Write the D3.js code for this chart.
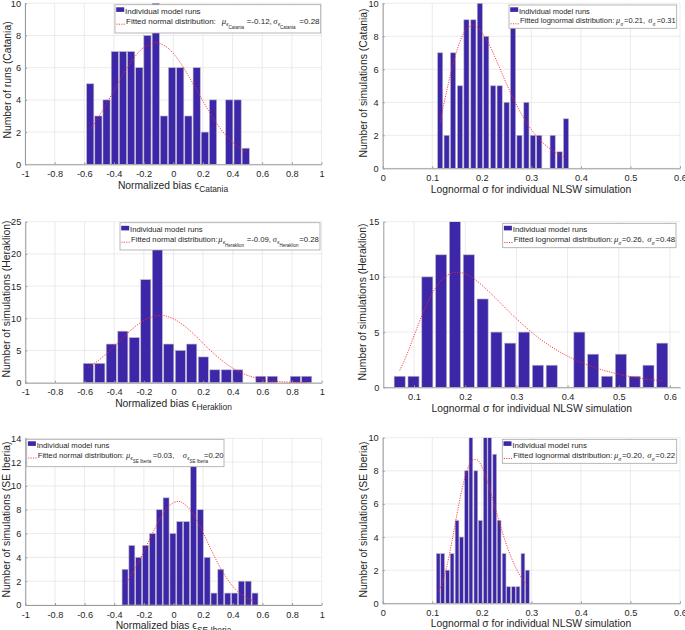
<!DOCTYPE html>
<html><head><meta charset="utf-8">
<script src="https://cdn.jsdelivr.net/npm/d3@7/dist/d3.min.js"></script>
<style>
body{margin:0;background:#fff}
svg{display:block}
text{font-family:"Liberation Sans",Arial,Helvetica,sans-serif;fill:#262626}
.sym{font-family:"Liberation Serif","Times New Roman",serif;font-style:italic}
</style>
</head><body>
<svg id="c" width="685" height="630"></svg>
<script>
// ---------------- DATA ----------------
// Catania
const catBiasCenters=[-0.560,-0.505,-0.450,-0.394,-0.339,-0.284,-0.229,-0.174,-0.118,-0.063,-0.008,0.047,0.102,0.158,0.213,0.268,0.323,0.378,0.434,0.489];
const catBiasCounts=[5,3,4,7,7,7,6,8,10,3,6,6,3,6,2,4,0,4,4,1];
const catBiasFit=[[-0.56,2.15],[-0.5,3.0],[-0.45,3.77],[-0.4,4.58],[-0.35,5.39],[-0.3,6.14],[-0.25,6.78],[-0.2,7.25],[-0.12,7.55],[-0.05,7.32],[0,6.89],[0.05,6.28],[0.1,5.54],[0.15,4.74],[0.2,3.93],[0.25,3.15],[0.3,2.45],[0.35,1.85],[0.4,1.38],[0.45,1.0],[0.49,0.78]];
const catSigCenters=[0.116,0.129,0.142,0.156,0.169,0.183,0.196,0.209,0.223,0.236,0.250,0.263,0.276,0.290,0.303,0.316,0.330,0.343,0.357,0.370];
const catSigCounts=[7,2,7,5,9,9,10,8,5,5,4,9,2,4,2,2,0,2,1,3];
const catSigFit=[[0.116,2.75],[0.12,3.4],[0.13,4.8],[0.14,6.08],[0.15,7.16],[0.16,7.97],[0.17,8.47],[0.183,8.67],[0.19,8.58],[0.21,7.78],[0.23,6.5],[0.25,5.11],[0.27,3.84],[0.29,2.78],[0.31,1.97],[0.33,1.36],[0.35,0.93],[0.37,0.63]];
// Heraklion
const herBiasCenters=[-0.575,-0.497,-0.420,-0.342,-0.265,-0.187,-0.109,-0.032,0.046,0.123,0.201,0.279,0.356,0.434,0.511,0.589,0.667,0.744,0.822,0.899];
const herBiasCounts=[3,3,6,8,7,16,22,6,5,6,4,2,2,2,0,1,1,0,1,1];
const herBiasFit=[[-0.575,2.35],[-0.5,3.58],[-0.45,4.57],[-0.4,5.66],[-0.35,6.79],[-0.3,7.89],[-0.25,8.87],[-0.2,9.67],[-0.15,10.21],[-0.09,10.45],[-0.05,10.34],[0,9.92],[0.05,9.22],[0.1,8.3],[0.15,7.24],[0.2,6.11],[0.25,5.0],[0.3,3.96],[0.35,3.04],[0.4,2.26],[0.45,1.63],[0.5,1.13],[0.6,0.5],[0.7,0.2],[0.8,0.07],[0.9,0.02]];
const herSigCenters=[0.072,0.099,0.126,0.153,0.180,0.207,0.234,0.261,0.288,0.315,0.342,0.369,0.396,0.423,0.450,0.477,0.504,0.531,0.558,0.585];
const herSigCounts=[1,1,10,12,15,12,8,5,4,5,2,2,0,5,3,1,3,1,2,4];
const herSigFit=[[0.072,1.54],[0.08,2.31],[0.09,3.43],[0.1,4.65],[0.12,7.01],[0.14,8.86],[0.16,9.99],[0.18,10.41],[0.2,10.27],[0.22,9.73],[0.25,8.5],[0.3,6.21],[0.35,4.25],[0.4,2.82],[0.45,1.84],[0.5,1.19],[0.55,0.77],[0.585,0.58]];
// SE Iberia
const ibeBiasCenters=[-0.327,-0.281,-0.235,-0.189,-0.142,-0.096,-0.050,-0.004,0.042,0.088,0.135,0.181,0.227,0.273,0.319,0.366,0.412,0.458,0.504,0.550];
const ibeBiasCounts=[3,5,4,5,6,8,9,6,7,7,13,8,4,1,3,1,1,2,2,1];
const ibeBiasFit=[[-0.327,1.8],[-0.3,2.23],[-0.25,3.27],[-0.2,4.49],[-0.15,5.8],[-0.1,7.04],[-0.05,8.03],[0,8.6],[0.03,8.7],[0.05,8.66],[0.1,8.18],[0.15,7.27],[0.2,6.06],[0.25,4.75],[0.3,3.5],[0.35,2.42],[0.4,1.57],[0.45,0.96],[0.5,0.55],[0.55,0.32]];
const ibeSigCenters=[0.112,0.121,0.131,0.140,0.150,0.159,0.169,0.178,0.188,0.197,0.207,0.216,0.226,0.235,0.245,0.254,0.264,0.273,0.283,0.292];
const ibeSigCounts=[3,3,2,3,5,4,8,10,8,5,10,10,9,5,3,1,1,1,3,2];
const ibeSigFit=[[0.112,0.68],[0.12,1.2],[0.13,2.31],[0.14,3.78],[0.15,5.39],[0.16,6.88],[0.17,8.0],[0.18,8.62],[0.19,8.68],[0.2,8.26],[0.21,7.47],[0.22,6.5],[0.23,5.46],[0.24,4.44],[0.25,3.52],[0.26,2.73],[0.27,2.07],[0.28,1.55],[0.292,1.05]];

// ticks
const biasTicks=[-1,-0.8,-0.6,-0.4,-0.2,0,0.2,0.4,0.6,0.8,1];
const biasTickLabels=["-1","-0.8","-0.6","-0.4","-0.2","0","0.2","0.4","0.6","0.8","1"];
const sigTicksA=[0,0.1,0.2,0.3,0.4,0.5,0.6];
const sigTickLabelsA=["0","0.1","0.2","0.3","0.4","0.5","0.6"];
const sigTicksB=[0.1,0.2,0.3,0.4,0.5,0.6];
const sigTickLabelsB=["0.1","0.2","0.3","0.4","0.5","0.6"];
const yTicks10=[0,2,4,6,8,10];
const yTicks25=[0,5,10,15,20,25];
const yTicks15=[0,5,10,15];
const yTicks14=[0,2,4,6,8,10,12,14];

// texts
const regions=["Catania","Heraklion","SE Iberia"];
const yLabels=["Number of runs (Catania)","Number of simulations (Catania)","Number of simulations (Heraklion)","Number of simulations (Heraklion)","Number of simulations (SE Iberia)","Number of simulations (SE Iberia)"];
const xLabelBias="Normalized bias ϵ";
const xLabelSig="Lognormal σ for individual NLSW simulation";
const legendRuns="Individual model runs";
const legendNormal="Fitted normal distribution:";
const legendLognormal="Fitted lognormal distribution:";
const fitValues=[["=-0.12,","=0.28"],["=0.21,","=0.31"],["=-0.09,","=0.28"],["=0.26,","=0.48"],["=0.03,","=0.20"],["=0.20,","=0.22"]];

// ---------------- LAYOUT ----------------
const barColor="#3E26A8";
const panels=[
 {kind:"bias",reg:0,centers:catBiasCenters,counts:catBiasCounts,fit:catBiasFit,xt:biasTicks,xl:biasTickLabels,yt:yTicks10,
  x0:25,x1:321.5,y0:164.3,y1:3.3,xd:[-1,1],yd:[0,10],frac:0.88,
  lg:{x:115,y:4.7,w:205.7,h:28.3,b1:13.5,b2:23.7,fs:8.0,muX:221.7,v1X:246.7,sigX:273.3,v2X:299.3},
  yl:{x:11,yc:80},xlab:{xc:173,y:188.7}},
 {kind:"sig",reg:0,centers:catSigCenters,counts:catSigCounts,fit:catSigFit,xt:sigTicksA,xl:sigTickLabelsA,yt:yTicks10,
  x0:382.7,x1:680,y0:168.3,y1:3.3,xd:[0,0.6],yd:[0,10],frac:0.8,
  lg:{x:509,y:5,w:167.7,h:23.3,b1:13.5,b2:23.3,fs:7.5,muX:616,v1X:624,sigX:648.3,v2X:656.7},
  yl:{x:367,yc:83},xlab:{xc:531,y:193}},
 {kind:"bias",reg:1,centers:herBiasCenters,counts:herBiasCounts,fit:herBiasFit,xt:biasTicks,xl:biasTickLabels,yt:yTicks25,
  x0:25.3,x1:321.7,y0:382.7,y1:221.7,xd:[-1,1],yd:[0,25],frac:0.87,
  lg:{x:120,y:222.7,w:200,h:27.3,b1:232,b2:241.7,fs:7.7,muX:218.3,v1X:246.7,sigX:272.7,v2X:299.3},
  yl:{x:9.8,yc:299},xlab:{xc:173.5,y:406.7}},
 {kind:"sig",reg:1,centers:herSigCenters,counts:herSigCounts,fit:herSigFit,xt:sigTicksB,xl:sigTickLabelsB,yt:yTicks15,
  x0:383.3,x1:680.2,y0:387.3,y1:221.7,xd:[0.04,0.62],yd:[0,15],frac:0.8,
  lg:{x:502.7,y:223.3,w:173.3,h:24.4,b1:232,b2:242,fs:7.9,muX:614,v1X:621.7,sigX:647.3,v2X:655.3},
  yl:{x:366,yc:302},xlab:{xc:531.7,y:411.5}},
 {kind:"bias",reg:2,centers:ibeBiasCenters,counts:ibeBiasCounts,fit:ibeBiasFit,xt:biasTicks,xl:biasTickLabels,yt:yTicks14,
  x0:25.3,x1:321.7,y0:605,y1:438.3,xd:[-1,1],yd:[0,14],frac:0.87,
  lg:{x:26.7,y:439.3,w:197.3,h:27.4,b1:447.5,b2:457.5,fs:7.7,muX:126,v1X:152.7,sigX:182.7,v2X:204},
  yl:{x:9.8,yc:519.5},xlab:{xc:173.5,y:629}},
 {kind:"sig",reg:2,centers:ibeSigCenters,counts:ibeSigCounts,fit:ibeSigFit,xt:sigTicksA,xl:sigTickLabelsA,yt:yTicks10,
  x0:382.7,x1:680,y0:603.3,y1:437.7,xd:[0,0.6],yd:[0,10],frac:0.84,
  lg:{x:502.3,y:439.3,w:174.4,h:24,b1:447.5,b2:458,fs:7.9,muX:614,v1X:622,sigX:647.3,v2X:655.3},
  yl:{x:367,yc:519.5},xlab:{xc:531,y:627}}
];

const svg=d3.select("#c");
const defs=svg.append("defs");

panels.forEach((p,i)=>{
  const x=d3.scaleLinear().domain(p.xd).range([p.x0,p.x1]);
  const y=d3.scaleLinear().domain(p.yd).range([p.y0,p.y1]);
  const g=svg.append("g");
  const cid="clip"+i;
  defs.append("clipPath").attr("id",cid).append("rect")
    .attr("x",p.x0).attr("y",p.y1).attr("width",p.x1-p.x0).attr("height",p.y0-p.y1);

  // grid
  const grid=g.append("g").attr("stroke","#e6e6e6").attr("stroke-width",0.8);
  grid.selectAll("line.v").data(p.xt).join("line").attr("class","v")
    .attr("x1",d=>x(d)).attr("x2",d=>x(d)).attr("y1",p.y0).attr("y2",p.y1);
  grid.selectAll("line.h").data(p.yt).join("line").attr("class","h")
    .attr("x1",p.x0).attr("x2",p.x1).attr("y1",d=>y(d)).attr("y2",d=>y(d));

  // bars
  const bw=p.centers[1]-p.centers[0];
  const bins=p.centers.map((c,j)=>({c:c,n:p.counts[j]})).filter(d=>d.n>0);
  g.append("g").attr("clip-path",`url(#${cid})`).selectAll("rect").data(bins).join("rect")
    .attr("x",d=>x(d.c-bw*p.frac/2))
    .attr("width",d=>x(d.c+bw*p.frac/2)-x(d.c-bw*p.frac/2))
    .attr("y",d=>y(d.n)).attr("height",d=>y(0)-y(d.n))
    .attr("fill",barColor).attr("stroke","#b8b8c8").attr("stroke-width",0.6);

  // fitted curve
  const line=d3.line().x(d=>x(d[0])).y(d=>y(d[1])).curve(d3.curveCatmullRom);
  g.append("path").datum(p.fit).attr("d",line).attr("fill","none")
    .attr("stroke","#ff2020").attr("stroke-width",0.9).attr("stroke-dasharray","1.1,1.3");

  // axes
  const ax=g.append("g").attr("transform",`translate(0,${p.y0})`)
    .call(d3.axisBottom(x).tickValues(p.xt).tickFormat((d,k)=>p.xl[k]).tickSizeInner(-2).tickSizeOuter(0).tickPadding(6));
  const ay=g.append("g").attr("transform",`translate(${p.x0},0)`)
    .call(d3.axisLeft(y).tickValues(p.yt).tickFormat(d=>String(d)).tickSizeInner(-2).tickSizeOuter(0).tickPadding(4));
  [ax,ay].forEach(a=>{
    a.attr("font-family",null).attr("font-size",null);
    a.selectAll("path,line").attr("stroke","#9a9a9a");
    a.selectAll("text").style("font-size","9.2px").attr("fill","#262626");
  });

  // axis labels
  g.append("text").attr("transform",`translate(${p.yl.x},${p.yl.yc}) rotate(-90)`)
    .attr("text-anchor","middle").style("font-size","10.4px").text(yLabels[i]);
  const xt=g.append("text").attr("x",p.xlab.xc).attr("y",p.xlab.y).attr("text-anchor","middle").style("font-size","10.3px");
  if(p.kind==="bias"){
    xt.append("tspan").text(xLabelBias);
    xt.append("tspan").attr("dy",3.5).style("font-size","8.4px").text(regions[p.reg]);
  } else {
    xt.text(xLabelSig);
  }

  // legend
  const L=p.lg, lg=g.append("g");
  lg.append("rect").attr("x",L.x).attr("y",L.y).attr("width",L.w).attr("height",L.h)
    .attr("fill","#fff").attr("stroke","#a6a6a6").attr("stroke-width",0.8);
  lg.append("rect").attr("x",L.x+1.2).attr("y",L.b1-6.2).attr("width",8).attr("height",4.6).attr("fill",barColor);
  lg.append("text").attr("x",L.x+10).attr("y",L.b1).style("font-size",L.fs+"px").text(legendRuns);
  lg.append("line").attr("x1",L.x+1.5).attr("x2",L.x+10).attr("y1",L.b2+0.5).attr("y2",L.b2+0.5)
    .attr("stroke","#ff2020").attr("stroke-width",0.9).attr("stroke-dasharray","1.1,1.3");
  lg.append("text").attr("x",L.x+11).attr("y",L.b2).style("font-size",L.fs+"px")
    .text(p.kind==="bias"?legendNormal:legendLognormal);
  const symFs=L.fs*1.08, subFs=L.fs*0.68, regFs=4.5;
  function symbol(sx,ch){
    lg.append("text").attr("class","sym").attr("x",sx).attr("y",L.b2).style("font-size",symFs+"px").text(ch);
    if(p.kind==="bias"){
      lg.append("text").attr("x",sx+4.6).attr("y",L.b2+2.3).style("font-size",subFs+"px").text("ϵ");
      lg.append("text").attr("x",sx+6.8).attr("y",L.b2+5.2).style("font-size",regFs+"px").text(regions[p.reg]);
    } else {
      lg.append("text").attr("class","sym").attr("x",sx+4.4).attr("y",L.b2+2.6).style("font-size",subFs+"px").text("σ");
    }
  }
  symbol(L.muX,"μ");
  lg.append("text").attr("x",L.v1X).attr("y",L.b2).style("font-size",L.fs+"px").text(fitValues[i][0]);
  symbol(L.sigX,"σ");
  lg.append("text").attr("x",L.v2X).attr("y",L.b2).style("font-size",L.fs+"px").text(fitValues[i][1]);
});
</script>
</body></html>
